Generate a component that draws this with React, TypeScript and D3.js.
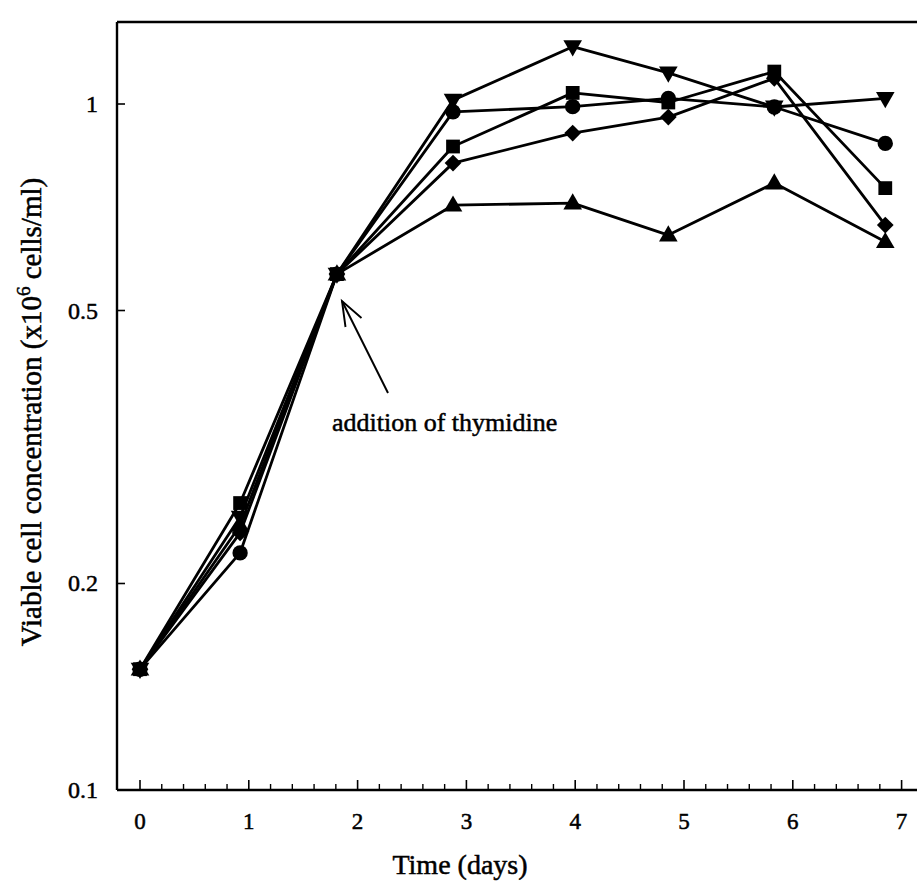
import React from "react";
import * as d3 from "d3";

const days = [0, 0.92, 1.81, 2.877, 3.977, 4.856, 5.83, 6.85];
const seriesNames = ["triDown", "circle", "square", "diamond", "triUp"];
const triDownValues = [0.15, 0.25, 0.565, 1.013, 1.212, 1.11, 0.99, 1.019];
const circleValues = [0.15, 0.2216, 0.565, 0.974, 0.991, 1.019, 0.99, 0.876];
const squareValues = [0.15, 0.262, 0.565, 0.867, 1.038, 1.005, 1.115, 0.754];
const diamondValues = [0.15, 0.237, 0.565, 0.82, 0.907, 0.957, 1.09, 0.666];
const triUpValues = [0.15, 0.243, 0.565, 0.712, 0.717, 0.644, 0.767, 0.63];
const xTickLabels = ["0", "1", "2", "3", "4", "5", "6", "7"];
const yTickValues = [0.1, 0.2, 0.5, 1];
const yTickLabels = ["0.1", "0.2", "0.5", "1"];

const W = 917;
const H = 893;
const FONT = "'Liberation Serif', 'DejaVu Serif', serif";

export default function App() {
  const x = d3.scaleLinear().domain([0, 7]).range([140, 901.6]);
  const y = d3.scaleLog().domain([0.1, 1]).range([790, 104]);
  const left = 117;
  const bottom = 790;
  const top = 22;
  const right = 930;

  const all = [
    { name: seriesNames[0], vals: triDownValues },
    { name: seriesNames[1], vals: circleValues },
    { name: seriesNames[2], vals: squareValues },
    { name: seriesNames[3], vals: diamondValues },
    { name: seriesNames[4], vals: triUpValues },
  ];

  const line = d3
    .line<[number, number]>()
    .x((d) => x(d[0]))
    .y((d) => y(d[1]));

  const tri = d3.symbol().type(d3.symbolTriangle).size(150)() as string;
  const sq = d3.symbol().type(d3.symbolSquare).size(190)() as string;
  const circ = d3.symbol().type(d3.symbolCircle).size(185)() as string;
  const dia = d3.symbol().type(d3.symbolSquare).size(140)() as string;

  const marker = (name: string, cx: number, cy: number, key: string) => {
    switch (name) {
      case "triDown":
        return <path key={key} d={tri} transform={`translate(${cx},${cy - 1}) rotate(180)`} fill="#000" />;
      case "triUp":
        return <path key={key} d={tri} transform={`translate(${cx},${cy + 1})`} fill="#000" />;
      case "square":
        return <path key={key} d={sq} transform={`translate(${cx},${cy})`} fill="#000" />;
      case "circle":
        return <path key={key} d={circ} transform={`translate(${cx},${cy})`} fill="#000" />;
      default:
        return <path key={key} d={dia} transform={`translate(${cx},${cy}) rotate(45)`} fill="#000" />;
    }
  };

  const minorTicks: number[] = [];
  for (let i = 0; i <= 36; i++) {
    const v = i * 0.2;
    if (Math.abs(v - Math.round(v)) > 1e-6) minorTicks.push(v);
  }

  const textStroke = { stroke: "#000", strokeWidth: 0.5 };

  return (
    <svg width={W} height={H} style={{ display: "block", position: "absolute", left: 0, top: 0, background: "#fff" }}>
      <rect x={0} y={0} width={W} height={H} fill="#fff" />
      {/* frame */}
      <line x1={left} y1={top} x2={right} y2={top} stroke="#000" strokeWidth={2.4} />
      <line x1={left} y1={top} x2={left} y2={bottom} stroke="#000" strokeWidth={2.4} />
      <line x1={left} y1={bottom} x2={right} y2={bottom} stroke="#000" strokeWidth={2.4} />

      {/* x ticks */}
      {xTickLabels.map((lab, i) => (
        <g key={"xt" + i}>
          <line x1={x(i)} x2={x(i)} y1={bottom} y2={bottom - 10} stroke="#000" strokeWidth={1.6} />
          <text x={x(i)} y={829} textAnchor="middle" fontFamily={FONT} fontSize={23} fill="#000" {...textStroke}>
            {lab}
          </text>
        </g>
      ))}
      {minorTicks
        .filter((v) => x(v) < W)
        .map((v, i) => (
          <line key={"xm" + i} x1={x(v)} x2={x(v)} y1={bottom} y2={bottom - 6} stroke="#000" strokeWidth={1.4} />
        ))}

      {/* y ticks */}
      {yTickValues.map((v, i) => (
        <g key={"yt" + i}>
          <line x1={left} x2={left + 8} y1={y(v)} y2={y(v)} stroke="#000" strokeWidth={1.6} />
          <text x={98} y={y(v) + 8} textAnchor="end" fontFamily={FONT} fontSize={24} fill="#000" {...textStroke}>
            {yTickLabels[i]}
          </text>
        </g>
      ))}

      {/* series lines */}
      {all.map((s) => (
        <path
          key={"l" + s.name}
          d={line(days.map((d, i) => [d, s.vals[i]] as [number, number])) as string}
          fill="none"
          stroke="#000"
          strokeWidth={2.8}
          strokeLinejoin="round"
        />
      ))}
      {/* markers */}
      {all.map((s) => (
        <g key={"m" + s.name}>{days.map((d, i) => marker(s.name, x(d), y(s.vals[i]), s.name + i))}</g>
      ))}

      {/* annotation */}
      <line x1={388} y1={393} x2={342} y2={301} stroke="#000" strokeWidth={1.9} />
      <polyline points="345.5,327 342,301 361.5,318" fill="none" stroke="#000" strokeWidth={1.9} />
      <text x={332} y={431} fontFamily={FONT} fontSize={26} fill="#000" {...textStroke}>
        addition of thymidine
      </text>

      {/* axis titles */}
      <text x={460} y={874} textAnchor="middle" fontFamily={FONT} fontSize={28} fill="#000" {...textStroke}>
        Time (days)
      </text>
      <text
        transform={`translate(41,412) rotate(-90)`}
        textAnchor="middle"
        fontFamily={FONT}
        fontSize={29}
        fill="#000"
        {...textStroke}
      >
        Viable cell concentration (x10
        <tspan dy={-11} fontSize={19}>
          6
        </tspan>
        <tspan dy={11}> cells/ml)</tspan>
      </text>
    </svg>
  );
}
